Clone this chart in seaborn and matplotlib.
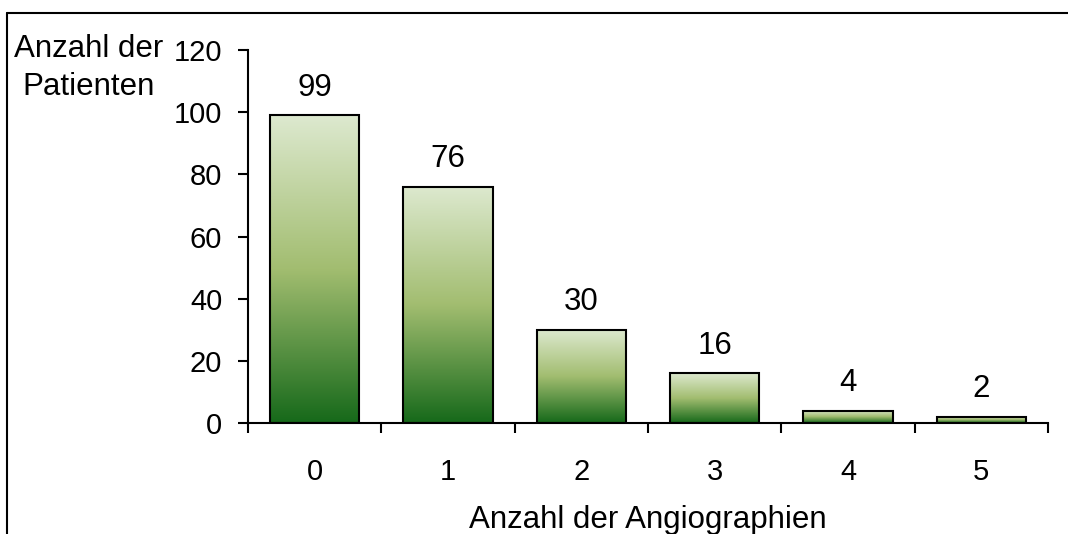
import numpy as np
import seaborn as sns
import matplotlib.pyplot as plt
from matplotlib.colors import LinearSegmentedColormap
from matplotlib.lines import Line2D

# Data
categories = ['0', '1', '2', '3', '4', '5']
patients = [99, 76, 30, 16, 4, 2]
y_ticks = [0, 20, 40, 60, 80, 100, 120]

sns.set_style('ticks')
plt.rcParams['font.family'] = ['Liberation Sans', 'DejaVu Sans']
for key in ['text.color', 'axes.labelcolor', 'xtick.color', 'ytick.color', 'axes.edgecolor']:
    plt.rcParams[key] = 'black'

fs_title = 22.5
fs_tick = 21
fs_value = 22.5

fig = plt.figure(figsize=(10.68, 5.34), dpi=100)
ax = fig.add_axes([248 / 1068, 1 - 423 / 534, (1048 - 248) / 1068, (423 - 50) / 534])

sns.barplot(x=categories, y=patients, ax=ax, width=0.67, color='white',
            edgecolor='black', linewidth=1.5, saturation=1)

# Green gradient inside each bar
green = LinearSegmentedColormap.from_list('grn', ['#16691a', '#a2bd70', '#dde9cf'])
grad = np.linspace(0, 1, 256).reshape(-1, 1)
for p in ax.patches:
    p.set_facecolor('none')
    p.set_zorder(3)
    x0, y0 = p.get_x(), p.get_y()
    im = ax.imshow(grad, cmap=green, origin='lower', aspect='auto', zorder=2,
                   extent=[x0, x0 + p.get_width(), y0, y0 + p.get_height()])
    im.set_clip_path(p)

ax.set_xlim(-0.5, 5.5)
ax.set_ylim(0, 120)
ax.set_yticks(y_ticks)

ax.bar_label(ax.containers[0], padding=9, fontsize=fs_value)

sns.despine(ax=ax)
for s in ['left', 'bottom']:
    ax.spines[s].set_linewidth(1.5)

ax.tick_params(axis='y', direction='out', length=7.5, width=1.5, pad=11, labelsize=fs_tick)
ax.set_xticks(np.arange(-0.5, 6, 1), minor=True)
ax.tick_params(axis='x', which='minor', direction='out', length=7, width=1.5)
ax.tick_params(axis='x', which='major', length=0, pad=25, labelsize=fs_tick)

ax.set_xlabel('Anzahl der Angiographien', fontsize=fs_title, labelpad=14)
ax.set_ylabel('')
fig.text(89 / 1068, 1 - 68 / 534, 'Anzahl der\nPatienten', fontsize=fs_title,
         ha='center', va='center', multialignment='center', linespacing=1.35)

# Frame around the figure (top and left edges only visible)
fig.add_artist(Line2D([7 / 1068, 7 / 1068], [0, 1 - 13 / 534], color='black', lw=1.5))
fig.add_artist(Line2D([7 / 1068, 1], [1 - 13 / 534, 1 - 13 / 534], color='black', lw=1.5))

fig.savefig('out.png', dpi=100)
